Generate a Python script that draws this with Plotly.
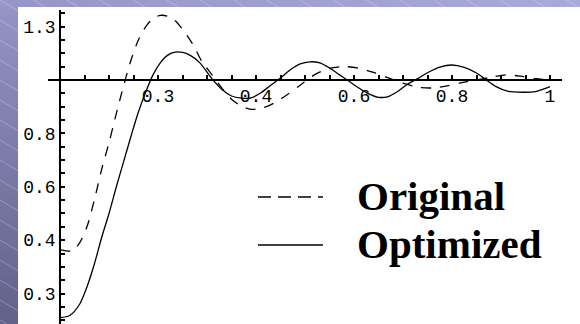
import plotly.graph_objects as go

# Step responses: original vs optimized design
t_original = [0, 0.025, 0.04, 0.055, 0.07, 0.085, 0.10, 0.115, 0.13, 0.145, 0.16, 0.175,
              0.19, 0.205, 0.22, 0.235, 0.25, 0.27, 0.29, 0.31, 0.33, 0.35, 0.37, 0.39,
              0.41, 0.43, 0.46, 0.49, 0.52, 0.55, 0.58, 0.61, 0.64, 0.67, 0.70, 0.73,
              0.76, 0.79, 0.82, 0.85, 0.88, 0.91, 0.94, 0.97, 1.0]
y_original = [0.365, 0.36, 0.39, 0.45, 0.55, 0.665, 0.765, 0.875, 0.98, 1.075, 1.15, 1.20,
              1.23, 1.242, 1.238, 1.222, 1.19, 1.137, 1.068, 1.02, 0.97, 0.928, 0.902, 0.89,
              0.894, 0.907, 0.94, 0.98, 1.02, 1.043, 1.05, 1.044, 1.028, 1.008, 0.988, 0.973,
              0.97, 0.978, 0.99, 1.0, 1.01, 1.019, 1.014, 1.005, 1.0]

t_optimized = [0, 0.02, 0.04, 0.055, 0.07, 0.085, 0.10, 0.115, 0.13, 0.145, 0.16, 0.175,
               0.19, 0.205, 0.22, 0.235, 0.25, 0.265, 0.285, 0.31, 0.33, 0.35, 0.37, 0.39,
               0.41, 0.43, 0.45, 0.47, 0.49, 0.51, 0.53, 0.55, 0.57, 0.59, 0.61, 0.63,
               0.65, 0.67, 0.69, 0.71, 0.73, 0.75, 0.775, 0.80, 0.825, 0.85, 0.87, 0.89,
               0.915, 0.945, 0.97, 0.985, 1.0]
y_optimized = [0.11, 0.118, 0.16, 0.225, 0.31, 0.41, 0.50, 0.60, 0.695, 0.79, 0.88, 0.955,
               1.02, 1.065, 1.093, 1.104, 1.103, 1.093, 1.065, 1.005, 0.965, 0.94, 0.932, 0.933,
               0.952, 0.98, 1.007, 1.038, 1.06, 1.068, 1.064, 1.045, 1.02, 0.995, 0.97, 0.948,
               0.935, 0.938, 0.958, 0.985, 1.005, 1.027, 1.048, 1.056, 1.047, 1.026, 1.0, 0.975,
               0.957, 0.954, 0.956, 0.965, 0.975]

x_tick_vals = [0.2, 0.4, 0.6, 0.8, 1.0]
x_tick_text = ["0.3", "0.4", "0.6", "0.8", "1"]
y_tick_vals = [0.2, 0.4, 0.6, 0.8, 1.2]
y_tick_text = ["0.3", "0.4", "0.6", "0.8", "1.3"]

legend_labels = ["Original", "Optimized"]

W, H = 580, 324
ML, MR, MT, MB = 48, 18, 10, 0
PW, PH = W - ML - MR, H - MT - MB
X_RANGE = [-0.0245, 1.0245]
Y_RANGE = [0.0861, 1.262]
TICK_STEP = 0.05


def px(x):
    return (x - ML) / PW


def py(y):
    return (H - MB - y) / PH


def hexmix(c1, c2, f):
    a = [int(c1[i:i + 2], 16) for i in (1, 3, 5)]
    b = [int(c2[i:i + 2], 16) for i in (1, 3, 5)]
    return "#" + "".join(f"{round(a[i] + (b[i] - a[i]) * f):02x}" for i in range(3))


def tick_grid(lo, hi, vals, texts, skip=None):
    """Small ticks every TICK_STEP, labelled only where a label is given."""
    labels = {round(v, 4): t for v, t in zip(vals, texts)}
    k0 = int(lo / TICK_STEP) + 1
    k1 = int(hi / TICK_STEP)
    pos, txt = [], []
    for k in range(k0, k1 + 1):
        v = round(k * TICK_STEP, 4)
        if skip is not None and abs(v - skip) < 1e-9:
            continue
        pos.append(v)
        txt.append(labels.get(v, ""))
    return pos, txt


shapes = []
# slide background: left strip fades darker downwards, top strip lighter to the right
n = 40
for i in range(n):
    shapes.append(dict(type="rect", xref="paper", yref="paper", layer="below",
                       x0=px(0), x1=px(20), y0=py(i * H / n), y1=py((i + 1) * H / n + 1),
                       fillcolor=hexmix("#9494c6", "#62628a", i / (n - 1)), line_width=0))
for i in range(n):
    shapes.append(dict(type="rect", xref="paper", yref="paper", layer="below",
                       x0=px(i * W / n), x1=px((i + 1) * W / n + 1), y0=py(0), y1=py(9),
                       fillcolor=hexmix("#9696c8", "#a8aadc", i / (n - 1)), line_width=0))
# fine diagonal hatching
for c in range(-400, 340, 20):
    shapes.append(dict(type="line", xref="paper", yref="paper", layer="below",
                       x0=px(0), y0=py(c), x1=px(W), y1=py(c + 0.6 * W),
                       line=dict(color="rgba(235,235,255,0.3)", width=1)))
# white chart panel
shapes.append(dict(type="rect", xref="paper", yref="paper", layer="below",
                   x0=px(18), x1=px(W + 2), y0=py(H + 2), y1=py(7),
                   fillcolor="white", line_width=0))
# legend keys
shapes.append(dict(type="line", xref="paper", yref="paper",
                   x0=px(258), x1=px(323), y0=py(197), y1=py(197),
                   line=dict(color="black", width=1.6, dash="13px,7px")))
shapes.append(dict(type="line", xref="paper", yref="paper",
                   x0=px(258), x1=px(323), y0=py(245), y1=py(245),
                   line=dict(color="black", width=1.6)))

annotations = [
    dict(xref="paper", yref="paper", x=px(355), y=py(196), xanchor="left", yanchor="middle",
         text=f"<b>{legend_labels[0]}</b>", showarrow=False,
         font=dict(family="Liberation Serif", size=41, color="black")),
    dict(xref="paper", yref="paper", x=px(355), y=py(244), xanchor="left", yanchor="middle",
         text=f"<b>{legend_labels[1]}</b>", showarrow=False,
         font=dict(family="Liberation Serif", size=41, color="black")),
]

fig = go.Figure()
fig.add_trace(go.Scatter(x=t_original, y=y_original, mode="lines", name=legend_labels[0],
                         line=dict(color="black", width=1.3, dash="10px,9px",
                                   shape="spline", smoothing=0.8)))
fig.add_trace(go.Scatter(x=t_optimized, y=y_optimized, mode="lines", name=legend_labels[1],
                         line=dict(color="black", width=1.3, shape="spline", smoothing=0.8)))

tick_font = dict(family="Liberation Mono", size=18, color="black")
x_pos = (1 - Y_RANGE[0]) / (Y_RANGE[1] - Y_RANGE[0])
y_pos = (0 - X_RANGE[0]) / (X_RANGE[1] - X_RANGE[0])

xt_pos, xt_txt = tick_grid(0, X_RANGE[1], x_tick_vals, x_tick_text)
yt_pos, yt_txt = tick_grid(Y_RANGE[0], Y_RANGE[1], y_tick_vals, y_tick_text, skip=1.0)

fig.update_layout(
    width=W, height=H,
    margin=dict(l=ML, r=MR, t=MT, b=MB, pad=0),
    paper_bgcolor="#8c8cbe",
    plot_bgcolor="rgba(0,0,0,0)",
    showlegend=False,
    shapes=shapes,
    annotations=annotations,
    xaxis=dict(range=X_RANGE, anchor="free", position=x_pos, side="bottom",
               showgrid=False, zeroline=False,
               showline=True, linecolor="black", linewidth=1.6,
               tickmode="array", tickvals=xt_pos, ticktext=xt_txt,
               ticks="inside", ticklen=4, tickwidth=1.6, tickcolor="black",
               tickfont=tick_font, layer="above traces"),
    yaxis=dict(range=Y_RANGE, anchor="free", position=y_pos, side="left",
               showgrid=False, zeroline=False,
               showline=True, linecolor="black", linewidth=1.6,
               tickmode="array", tickvals=yt_pos, ticktext=yt_txt,
               ticks="inside", ticklen=4, tickwidth=1.6, tickcolor="black",
               tickfont=tick_font, layer="above traces"),
)

fig.write_html("out.html")
